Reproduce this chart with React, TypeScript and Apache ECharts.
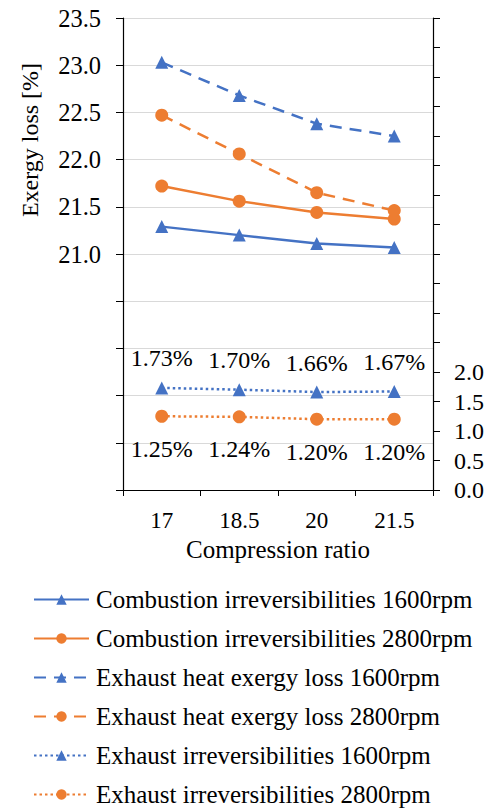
import React, { useEffect, useRef } from "react";
import * as echarts from "echarts";

const categories = ["17", "18.5", "20", "21.5"];
const combustion1600 = [21.29, 21.2, 21.11, 21.07];
const combustion2800 = [21.72, 21.56, 21.44, 21.37];
const exhaustHeat1600 = [23.03, 22.68, 22.38, 22.25];
const exhaustHeat2800 = [22.47, 22.06, 21.65, 21.46];
const exhaustIrr1600 = [1.73, 1.7, 1.66, 1.67];
const exhaustIrr2800 = [1.25, 1.24, 1.2, 1.2];

const BLUE = "#4472C4";
const ORANGE = "#ED7D31";
const FONT = "'Liberation Serif', 'Times New Roman', serif";

export default function App() {
  const ref = useRef<HTMLDivElement>(null);
  useEffect(() => {
    if (!ref.current) return;
    const chart = echarts.init(ref.current, undefined, { renderer: "svg" });
    const mk = (
      name: string,
      data: number[],
      color: string,
      symbol: string,
      type: any,
      yAxisIndex: number,
      labelPos?: string
    ) => ({
      name,
      type: "line",
      data,
      yAxisIndex,
      symbol,
      symbolSize: 13,
      itemStyle: { color },
      lineStyle: { color, width: 2.5, type },
      label: labelPos
        ? {
            show: true,
            position: labelPos,
            distance: labelPos === "top" ? 11 : 14,
            formatter: (p: any) => p.value.toFixed(2) + "%",
            fontFamily: FONT,
            fontSize: 24,
            color: "#000",
          }
        : { show: false },
    });
    chart.setOption({
      animation: false,
      textStyle: { fontFamily: FONT },
      grid: { left: 123, right: 58, top: 18, bottom: 319 },
      xAxis: {
        type: "category",
        data: categories,
        boundaryGap: true,
        axisLine: { lineStyle: { color: "#000", width: 1.2 } },
        axisTick: { show: true, interval: 0, length: 6, lineStyle: { color: "#000" } },
        axisLabel: { fontFamily: FONT, fontSize: 23, color: "#000", margin: 19 },
        name: "Compression ratio",
        nameLocation: "middle",
        nameGap: 46,
        nameTextStyle: { fontFamily: FONT, fontSize: 25, color: "#000" },
      },
      yAxis: [
        {
          type: "value",
          min: 18.5,
          max: 23.5,
          interval: 0.5,
          axisLine: { show: true, lineStyle: { color: "#000", width: 1.2 } },
          axisTick: { show: true, length: 7, lineStyle: { color: "#000" } },
          axisLabel: {
            fontFamily: FONT,
            fontSize: 24.5,
            color: "#000",
            margin: 22,
            formatter: (v: number) => (v >= 20.99 ? v.toFixed(1) : ""),
          },
          splitLine: { show: true, lineStyle: { color: "#d9d9d9", width: 1.2 } },
        },
        {
          type: "value",
          min: 0,
          max: 8,
          interval: 0.5,
          position: "right",
          axisLine: { show: true, lineStyle: { color: "#000", width: 1.2 } },
          axisTick: { show: true, length: 7, lineStyle: { color: "#000" } },
          axisLabel: {
            fontFamily: FONT,
            fontSize: 24,
            color: "#000",
            margin: 21,
            formatter: (v: number) => (v <= 2.01 ? v.toFixed(1) : ""),
          },
          splitLine: { show: false },
        },
      ],
      legend: {
        orient: "vertical",
        left: 33,
        top: 587,
        padding: 0,
        itemWidth: 55,
        itemHeight: 13,
        itemGap: 14,
        textStyle: { fontFamily: FONT, fontSize: 25, color: "#000", padding: [0, 0, 0, 2] },
        data: [
          "Combustion irreversibilities 1600rpm",
          "Combustion irreversibilities 2800rpm",
          "Exhaust heat exergy loss 1600rpm",
          "Exhaust heat exergy loss 2800rpm",
          "Exhaust irreversibilities 1600rpm",
          "Exhaust irreversibilities 2800rpm",
        ],
      },
      graphic: [
        {
          type: "text",
          x: 30,
          y: 140,
          rotation: Math.PI / 2,
          style: {
            text: "Exergy loss [%]",
            fontFamily: FONT,
            fontSize: 24,
            fill: "#000",
            textAlign: "center",
            textVerticalAlign: "middle",
          },
        },
      ],
      series: [
        mk("Combustion irreversibilities 1600rpm", combustion1600, BLUE, "triangle", "solid", 0),
        mk("Combustion irreversibilities 2800rpm", combustion2800, ORANGE, "circle", "solid", 0),
        mk("Exhaust heat exergy loss 1600rpm", exhaustHeat1600, BLUE, "triangle", [12, 8], 0),
        mk("Exhaust heat exergy loss 2800rpm", exhaustHeat2800, ORANGE, "circle", [12, 8], 0),
        mk("Exhaust irreversibilities 1600rpm", exhaustIrr1600, BLUE, "triangle", [2.5, 3], 1, "top"),
        mk("Exhaust irreversibilities 2800rpm", exhaustIrr2800, ORANGE, "circle", [2.5, 3], 1, "bottom"),
      ],
    });
    return () => chart.dispose();
  }, []);
  return (
    <div
      ref={ref}
      style={{ position: "absolute", left: 0, top: 0, width: 491, height: 809 }}
    />
  );
}
